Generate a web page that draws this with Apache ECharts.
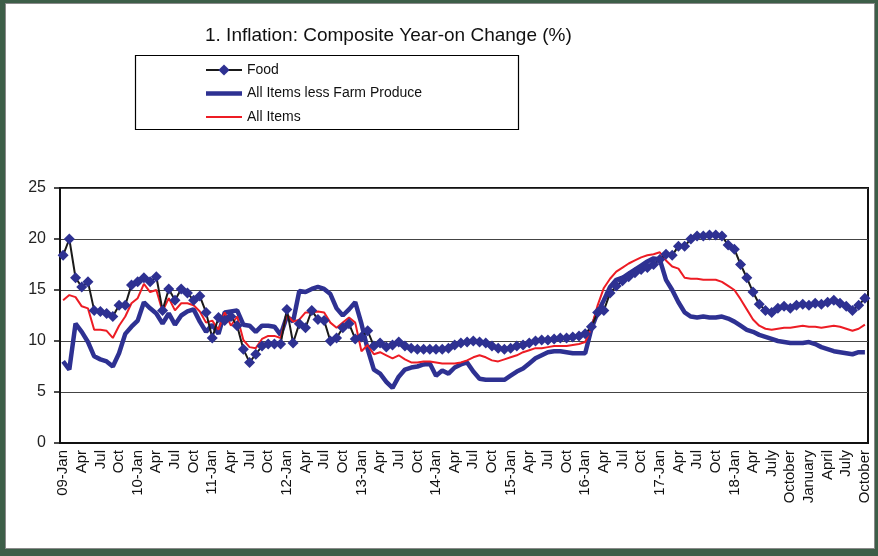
<!DOCTYPE html>
<html>
<head>
<meta charset="utf-8">
<script src="https://cdn.jsdelivr.net/npm/echarts@6/dist/echarts.min.js"></script>
<style>
  html, body { margin: 0; padding: 0; }
  body { width: 878px; height: 556px; background: #3d5e48; position: relative; overflow: hidden; }
  #frame { position: absolute; left: 5px; top: 3px; width: 868px; height: 544px; background: #fff; border: 1px solid #8a8a8a; }
  #chart { position: absolute; left: 0; top: 0; width: 878px; height: 556px; }
</style>
</head>
<body>
<div id="frame"></div>
<div id="chart"></div>
<script>
// axis labels, one every 3 months (Jan 2009 .. Oct 2019)
var tickLabels = ['09-Jan', 'Apr', 'Jul', 'Oct', '10-Jan', 'Apr', 'Jul', 'Oct', '11-Jan', 'Apr', 'Jul', 'Oct',
  '12-Jan', 'Apr', 'Jul', 'Oct', '13-Jan', 'Apr', 'Jul', 'Oct', '14-Jan', 'Apr', 'Jul', 'Oct',
  '15-Jan', 'Apr', 'Jul', 'Oct', '16-Jan', 'Apr', 'Jul', 'Oct', '17-Jan', 'Apr', 'Jul', 'Oct',
  '18-Jan', 'Apr', 'July', 'October', 'January', 'April', 'July', 'October']

// Food (monthly)
var food = [18.4, 20.0, 16.2, 15.3, 15.8, 13.0, 12.9, 12.7, 12.4, 13.5, 13.5, 15.5,
  15.8, 16.2, 15.8, 16.3, 13.0, 15.1, 14.0, 15.1, 14.7, 14.0, 14.4, 12.8,
  10.3, 12.3, 12.0, 12.4, 11.5, 9.2, 7.9, 8.7, 9.5, 9.7, 9.7, 9.7,
  13.1, 9.8, 11.7, 11.3, 13.0, 12.1, 12.0, 10.0, 10.3, 11.3, 11.7, 10.2,
  10.4, 11.0, 9.5, 9.8, 9.4, 9.6, 9.9, 9.5, 9.3, 9.2, 9.2, 9.2,
  9.2, 9.2, 9.3, 9.6, 9.8, 9.9, 10.0, 9.9, 9.8, 9.5, 9.3, 9.2,
  9.3, 9.5, 9.6, 9.8, 10.0, 10.1, 10.1, 10.2, 10.3, 10.3, 10.4, 10.5,
  10.7, 11.4, 12.8, 13.0, 14.7, 15.4, 15.9, 16.3, 16.7, 17.0, 17.2, 17.5,
  18.0, 18.5, 18.4, 19.3, 19.3, 20.0, 20.3, 20.3, 20.4, 20.4, 20.3, 19.4,
  19.0, 17.5, 16.2, 14.8, 13.6, 13.0, 12.8, 13.2, 13.4, 13.2, 13.5, 13.6,
  13.5, 13.7, 13.6, 13.8, 14.0, 13.7, 13.4, 13.0, 13.5, 14.2]

// All Items less Farm Produce
var core = [8.0, 7.2, 11.7, 10.9, 9.9, 8.5, 8.2, 8.0, 7.5, 8.8, 10.7, 11.4,
  12.0, 13.8, 13.2, 12.7, 11.7, 12.7, 11.6, 12.5, 12.9, 13.1, 11.9, 10.9,
  11.6, 10.7, 12.8, 12.9, 13.0, 11.6, 11.5, 10.9, 11.5, 11.5, 11.4, 10.6,
  12.4, 11.9, 14.9, 14.8, 15.1, 15.3, 15.1, 14.6, 13.2, 12.5, 13.1, 13.8,
  11.7, 9.2, 7.2, 6.8, 6.0, 5.4, 6.5, 7.2, 7.4, 7.5, 7.7, 7.8,
  6.6, 7.1, 6.8, 7.4, 7.7, 7.9, 7.0, 6.3, 6.2, 6.2, 6.2, 6.2,
  6.6, 7.0, 7.3, 7.8, 8.3, 8.6, 8.9, 9.0, 9.0, 8.9, 8.8, 8.8,
  8.8, 11.2, 12.8, 14.0, 15.3, 16.0, 16.2, 16.6, 17.0, 17.4, 17.8, 18.1,
  18.0, 16.0, 15.0, 13.8, 12.8, 12.4, 12.3, 12.4, 12.3, 12.3, 12.4, 12.2,
  11.9, 11.5, 11.1, 10.9, 10.6, 10.4, 10.2, 10.0, 9.9, 9.8, 9.8, 9.8,
  9.9, 9.7, 9.4, 9.2, 9.0, 8.9, 8.8, 8.7, 8.9, 8.9]

// All Items
var allItems = [14.0, 14.5, 14.3, 13.4, 13.2, 11.1, 11.1, 11.0, 10.3, 11.5, 12.4, 13.7,
  14.2, 15.6, 14.8, 15.0, 12.9, 14.2, 13.0, 13.7, 13.7, 13.5, 12.9, 11.8,
  12.0, 11.1, 12.8, 11.5, 12.4, 10.1, 9.4, 9.3, 10.2, 10.5, 10.5, 10.3,
  12.6, 11.9, 12.1, 12.8, 12.8, 12.9, 12.8, 11.8, 11.3, 11.8, 12.3, 11.8,
  9.0, 9.6, 8.7, 8.9, 8.6, 8.3, 8.6, 8.2, 7.9, 7.9, 8.0, 8.0,
  7.9, 7.8, 7.8, 7.8, 7.9, 8.1, 8.4, 8.6, 8.4, 8.1, 8.0, 8.2,
  8.4, 8.6, 8.9, 9.1, 9.3, 9.3, 9.4, 9.5, 9.5, 9.5, 9.6, 9.7,
  9.9, 11.3, 13.5, 15.2, 16.1, 16.8, 17.2, 17.6, 17.9, 18.2, 18.4, 18.5,
  18.7, 17.9, 17.3, 17.1, 16.2, 16.1, 16.1, 16.0, 16.0, 16.0, 15.8, 15.4,
  15.0, 14.1, 13.1, 12.1, 11.5, 11.2, 11.1, 11.2, 11.3, 11.3, 11.4, 11.5,
  11.4, 11.4, 11.3, 11.4, 11.5, 11.4, 11.2, 11.0, 11.2, 11.6]

var navy = '#2e3192'
var red = '#ed1c24'
var font = 'Liberation Sans, Arial, sans-serif'

// one category per month
var months = []
for (var y = 2009; y <= 2019; y++) {
  for (var m = 1; m <= 12; m++) {
    if (months.length < food.length) months.push(y + '-' + m)
  }
}

var myChart = echarts.init(document.getElementById('chart'))
var option = {
  animation: false,
  title: {
    text: '1. Inflation: Composite Year-on Change (%)',
    left: 200,
    top: 21,
    textStyle: { fontFamily: font, fontSize: 19, fontWeight: 'normal', color: '#111' }
  },
  graphic: [{
    type: 'rect',
    shape: { x: 135.5, y: 55.5, width: 383, height: 74 },
    style: { fill: 'none', stroke: '#000', lineWidth: 1.2 }
  }],
  legend: {
    orient: 'vertical',
    left: 200,
    top: 58,
    itemWidth: 36,
    itemHeight: 14,
    itemGap: 9.5,
    textStyle: { fontFamily: font, fontSize: 14, color: '#111' },
    data: [
      { name: 'Food' },
      // plain line keys for the two lines without markers
      { name: 'All Items less Farm Produce', icon: 'path://M0,0M36,14M0,4.8h36v4.4h-36z' },
      { name: 'All Items', icon: 'path://M0,0M36,14M0,6h36v2h-36z' }
    ]
  },
  grid: {
    left: 60,
    right: 10,
    top: 188,
    bottom: 113,
    show: true,
    borderColor: '#111',
    borderWidth: 2
  },
  xAxis: {
    type: 'category',
    data: months,
    boundaryGap: true,
    axisLine: { lineStyle: { color: '#111', width: 2 } },
    axisTick: { interval: 2, length: 5, lineStyle: { color: '#111', width: 1.5 } },
    axisLabel: {
      interval: 2,
      rotate: 90,
      margin: 7,
      fontFamily: font,
      fontSize: 15,
      color: '#111',
      formatter: function (v, idx) { return tickLabels[idx / 3] }
    }
  },
  yAxis: {
    type: 'value',
    min: 0,
    max: 25,
    interval: 5,
    axisLine: { show: true, lineStyle: { color: '#111', width: 2 } },
    axisTick: { show: true, length: 6, lineStyle: { color: '#111', width: 1.5 } },
    axisLabel: { margin: 14, fontFamily: font, fontSize: 16, color: '#222' },
    splitLine: { lineStyle: { color: '#444', width: 1 } }
  },
  series: [
    {
      name: 'Food',
      type: 'line',
      data: food,
      symbol: 'diamond',
      symbolSize: 11,
      showAllSymbol: true,
      z: 4,
      itemStyle: { color: navy },
      lineStyle: { color: '#1a1a1a', width: 2 }
    },
    {
      name: 'All Items less Farm Produce',
      type: 'line',
      data: core,
      showSymbol: false,
      z: 2,
      itemStyle: { color: navy },
      lineStyle: { color: navy, width: 4.5 }
    },
    {
      name: 'All Items',
      type: 'line',
      data: allItems,
      showSymbol: false,
      z: 3,
      itemStyle: { color: red },
      lineStyle: { color: red, width: 2 }
    }
  ]
}
myChart.setOption(option)
</script>
</body>
</html>
